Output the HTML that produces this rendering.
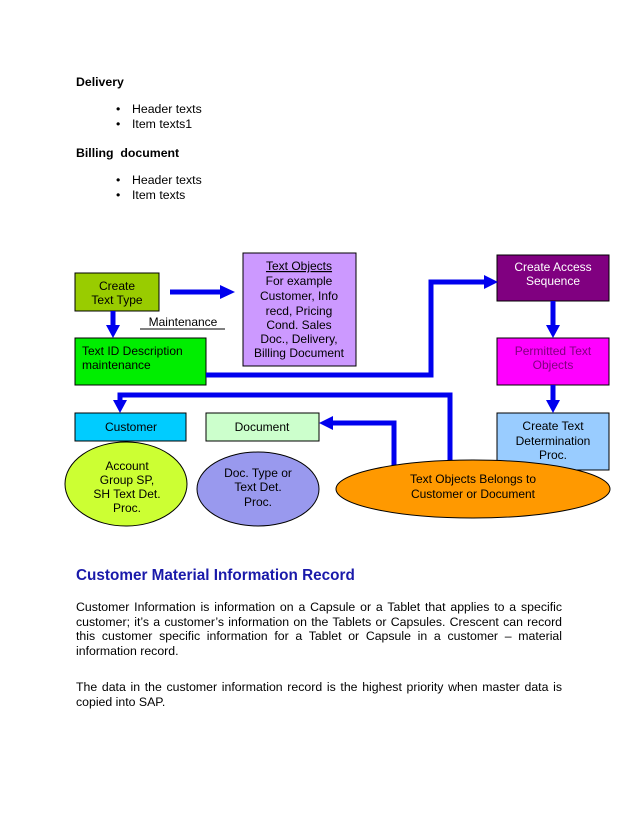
<!DOCTYPE html>
<html><head><meta charset="utf-8"><style>
body{margin:0;background:#fff;width:638px;height:826px;position:relative;overflow:hidden;font-family:"Liberation Sans",sans-serif;color:#000}
.a{position:absolute;font-size:12.3px;white-space:nowrap}
.p{position:absolute;left:76px;width:486px;font-size:12.3px;line-height:14.6px;text-align:justify}
</style></head><body>
<div class="a" style="left:76px;top:75px;font-weight:bold">Delivery</div>
<div class="a" style="left:116px;top:102px">•</div><div class="a" style="left:132px;top:102px">Header texts</div>
<div class="a" style="left:116px;top:117px">•</div><div class="a" style="left:132px;top:117px">Item texts1</div>
<div class="a" style="left:76px;top:146px;font-weight:bold">Billing &nbsp;document</div>
<div class="a" style="left:116px;top:173px">•</div><div class="a" style="left:132px;top:173px">Header texts</div>
<div class="a" style="left:116px;top:188px">•</div><div class="a" style="left:132px;top:188px">Item texts</div>

<svg style="position:absolute;left:0;top:0" width="638" height="560" font-family="Liberation Sans, sans-serif" font-size="12">
<g stroke="#000" stroke-width="1">
<rect x="75" y="273" width="84" height="38" fill="#99cc00"/>
<rect x="75" y="338" width="131" height="47" fill="#00ee00"/>
<rect x="243" y="253" width="113" height="113" fill="#cc99ff"/>
<rect x="497" y="255" width="112" height="46" fill="#800080"/>
<rect x="497" y="338" width="112" height="47" fill="#ff00ff"/>
<rect x="75" y="413" width="111" height="28" fill="#00ccff"/>
<rect x="206" y="413" width="113" height="28" fill="#ccffcc"/>
<ellipse cx="126" cy="484" rx="61" ry="42" fill="#ccff33"/>
<ellipse cx="258" cy="489" rx="61" ry="37" fill="#9999ee"/>
<rect x="497" y="413" width="112" height="57" fill="#99ccff"/>
</g>
<g stroke="#0000ee" stroke-width="5" fill="none">
<line x1="170" y1="292" x2="222" y2="292"/>
<line x1="113" y1="311" x2="113" y2="326"/>
<polyline points="206,375 431,375 431,282 486,282"/>
<polyline points="450,462 450,395 120,395 120,401"/>
<polyline points="394,470 394,423 332,423"/>
<line x1="553" y1="301" x2="553" y2="326"/>
<line x1="553" y1="385" x2="553" y2="401"/>
</g>
<ellipse cx="473" cy="489" rx="137" ry="29" fill="#ff9900" stroke="#000"/>
<g fill="#0000ee">
<polygon points="220,285 235,292 220,299"/>
<polygon points="106,325 120,325 113,338"/>
<polygon points="484,275 498,282 484,289"/>
<polygon points="113,400 127,400 120,413"/>
<polygon points="333,416 319,423 333,430"/>
<polygon points="546,325 560,325 553,338"/>
<polygon points="546,400 560,400 553,413"/>
</g>
<line x1="140" y1="329" x2="225" y2="329" stroke="#000" stroke-width="1"/>
<g text-anchor="middle">
<text x="117" y="290">Create</text><text x="117" y="304">Text Type</text>
<text x="183" y="326">Maintenance</text>
<text x="299" y="270" text-decoration="underline">Text Objects</text>
<text x="299" y="285">For example</text><text x="299" y="300">Customer, Info</text>
<text x="299" y="315">recd, Pricing</text><text x="299" y="329">Cond. Sales</text>
<text x="299" y="343">Doc., Delivery,</text><text x="299" y="357">Billing Document</text>
<text x="553" y="271" fill="#fff">Create Access</text><text x="553" y="285" fill="#fff">Sequence</text>
<text x="553" y="355" fill="#800080">Permitted Text</text><text x="553" y="369" fill="#800080">Objects</text>
<text x="131" y="431">Customer</text><text x="262" y="431">Document</text>
<text x="553" y="430">Create Text</text><text x="553" y="445">Determination</text><text x="553" y="459">Proc.</text>
<text x="127" y="470">Account</text><text x="127" y="484">Group SP,</text><text x="127" y="498">SH Text Det.</text><text x="127" y="512">Proc.</text>
<text x="258" y="477">Doc. Type or</text><text x="258" y="491">Text Det.</text><text x="258" y="506">Proc.</text>
<text x="473" y="483">Text Objects Belongs to</text><text x="473" y="498">Customer or Document</text>
</g>
<text x="82" y="355">Text ID Description</text><text x="82" y="369">maintenance</text>
</svg>
<div class="a" style="left:76px;top:567px;font-size:15.3px;font-weight:bold;color:#1a1aaa">Customer Material Information Record</div>
<div class="p" style="top:600px">Customer Information is information on a Capsule or a Tablet that applies to a specific customer; it’s a customer’s information on the Tablets or Capsules. Crescent can record this customer specific information for a Tablet or Capsule in a customer – material information record.</div>
<div class="p" style="top:680px">The data in the customer information record is the highest priority when master data is copied into SAP.</div>
</body></html>
